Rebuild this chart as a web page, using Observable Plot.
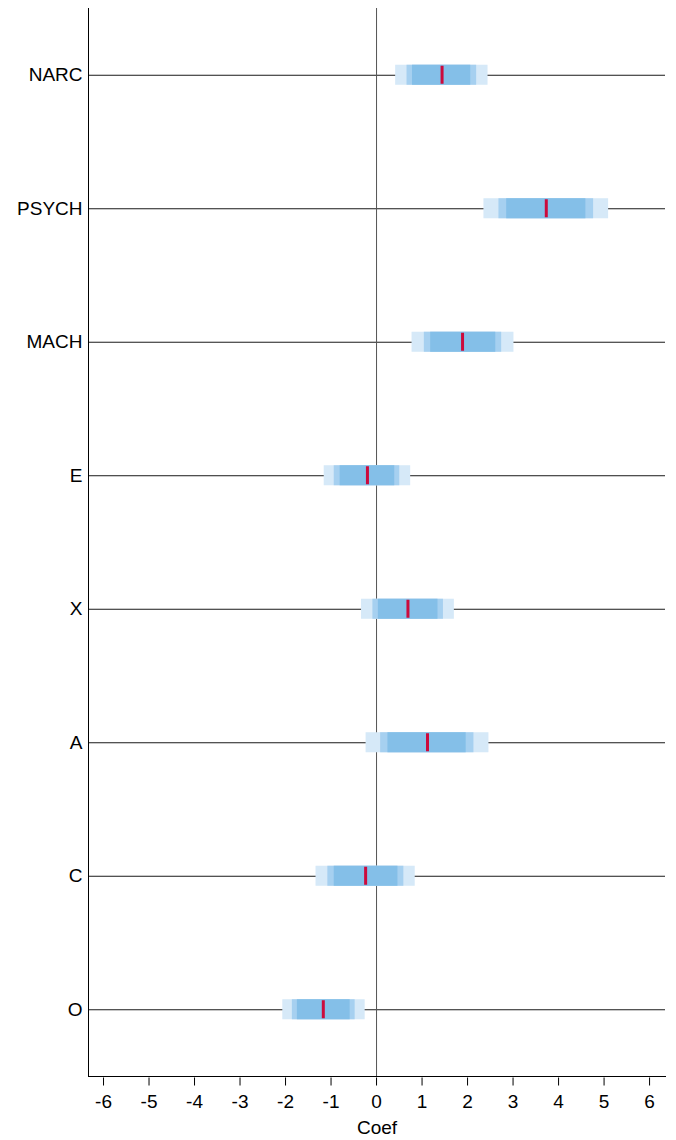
<!DOCTYPE html>
<html>
<head>
<meta charset="utf-8">
<script src="https://cdn.jsdelivr.net/npm/d3@7"></script>
<script src="https://cdn.jsdelivr.net/npm/@observablehq/plot@0.6"></script>
<style>
  html, body { margin: 0; padding: 0; background: #fff; }
  #chart svg { display: block; }
</style>
</head>
<body>
<div id="chart"></div>
<script>
const vars   = ["NARC", "PSYCH", "MACH", "E", "X", "A", "C", "O"];
const coef   = [1.44, 3.73, 1.89, -0.20, 0.69, 1.12, -0.24, -1.17];
const lo_out = [0.42, 2.36, 0.78, -1.15, -0.33, -0.23, -1.33, -2.06];
const hi_out = [2.45, 5.10, 3.02, 0.75, 1.71, 2.47, 0.85, -0.25];
const lo_mid = [0.67, 2.69, 1.05, -0.93, -0.08, 0.09, -1.07, -1.85];
const hi_mid = [2.20, 4.77, 2.75, 0.51, 1.47, 2.14, 0.60, -0.47];
const lo_in  = [0.79, 2.86, 1.19, -0.80, 0.04, 0.25, -0.93, -1.74];
const hi_in  = [2.07, 4.60, 2.62, 0.40, 1.35, 1.97, 0.47, -0.58];
const xTicks = [-6, -5, -4, -3, -2, -1, 0, 1, 2, 3, 4, 5, 6];

const rows = vars.map((v, i) => ({
  v, coef: coef[i],
  lo1: lo_out[i], hi1: hi_out[i],
  lo2: lo_mid[i], hi2: hi_mid[i],
  lo3: lo_in[i],  hi3: hi_in[i]
}));

const font = "'Liberation Sans', Arial, Helvetica, sans-serif";

const chart = Plot.plot({
  width: 676,
  height: 1140,
  marginTop: 8,
  marginBottom: 64,
  marginLeft: 88,
  marginRight: 11,
  style: {fontFamily: font, fontSize: "19px", color: "#000", background: "#fff"},
  x: {domain: [-6.33, 6.35]},
  y: {domain: vars, paddingInner: 0.85, paddingOuter: 0.425, round: false},
  marks: [
    Plot.ruleY(vars, {y: d => d, stroke: "#1a1a1a", strokeWidth: 1}),
    Plot.ruleX([0], {stroke: "#555", strokeWidth: 1}),
    Plot.barX(rows, {y: "v", x1: "lo1", x2: "hi1", fill: "#d6e9f8"}),
    Plot.barX(rows, {y: "v", x1: "lo2", x2: "hi2", fill: "#a6d0f0"}),
    Plot.barX(rows, {y: "v", x1: "lo3", x2: "hi3", fill: "#84bfe8"}),
    Plot.tickX(rows, {y: "v", x: "coef", stroke: "#cc0a3c", strokeWidth: 3, insetTop: 1, insetBottom: 1}),
    Plot.ruleX([-6.33], {stroke: "#000", strokeWidth: 1}),
    Plot.frame({anchor: "bottom", stroke: "#000", strokeWidth: 1}),
    Plot.axisY({tickSize: 0, tickPadding: 6, label: null, fontSize: 19}),
    Plot.axisX({ticks: xTicks, tickFormat: d => String(d), tickSize: 8, dy: 1.5, tickPadding: 8, fontSize: 19,
      label: "Coef", labelAnchor: "center", labelOffset: 57, labelArrow: "none"})
  ]
});
document.getElementById("chart").appendChild(chart);
</script>
</body>
</html>
